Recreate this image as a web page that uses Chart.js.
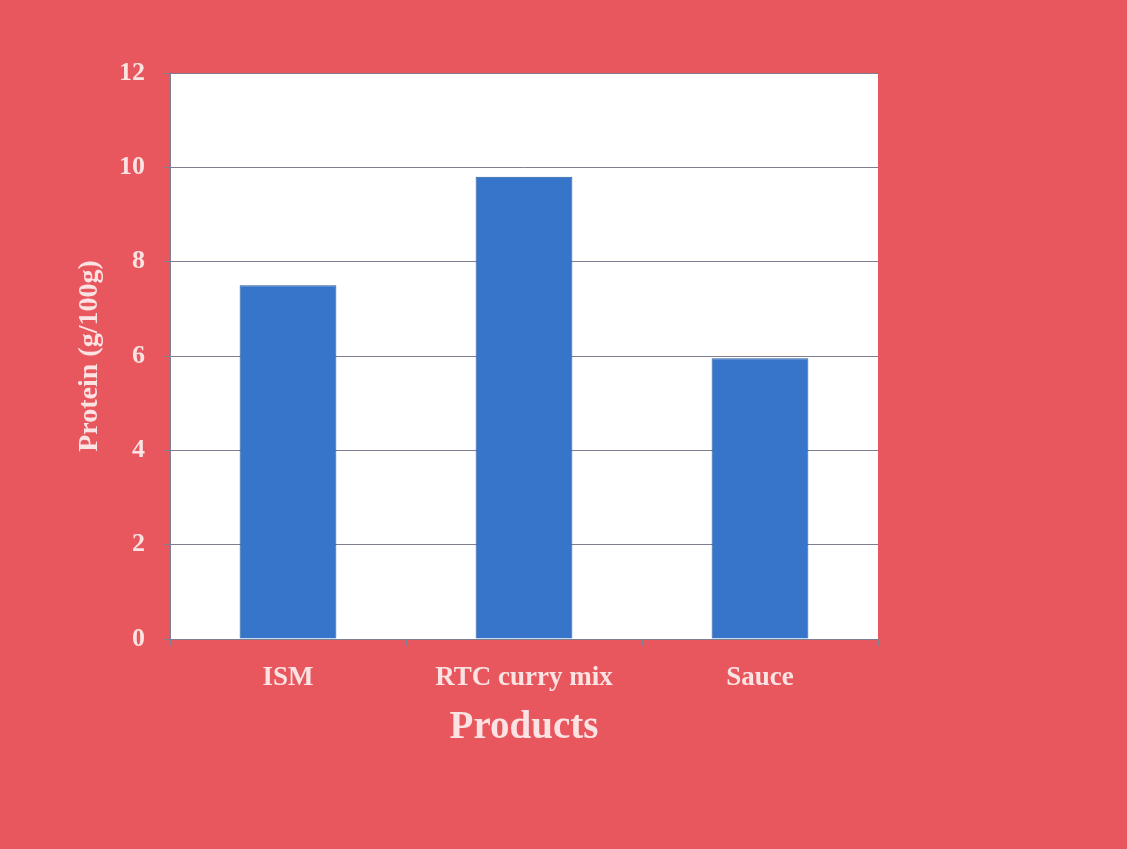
<!DOCTYPE html>
<html>
<head>
<meta charset="utf-8">
<script src="https://cdn.jsdelivr.net/npm/chart.js@4.4.0/dist/chart.umd.min.js"></script>
<style>
html,body{margin:0;padding:0;background:#E8575E;}
#wrap{width:1127px;height:849px;position:relative;}
</style>
</head>
<body>
<div id="wrap"><canvas id="c" width="1127" height="849"></canvas></div>
<script>
const categories = ["ISM", "RTC curry mix", "Sauce"];
const proteinValues = [7.5, 9.8, 5.95];
const yTicks = [0, 2, 4, 6, 8, 10, 12];

const bgColor = '#E8575E';
const textColor = '#FBE3E3';
const gridColor = '#7E7E90';

const bgPlugin = {
  id: 'bg',
  beforeDraw(chart) {
    const ctx = chart.ctx, a = chart.chartArea;
    ctx.save();
    ctx.fillStyle = bgColor;
    ctx.fillRect(0, 0, chart.width, chart.height);
    ctx.fillStyle = '#FFFFFF';
    ctx.fillRect(a.left, a.top, a.right - a.left, a.bottom - a.top);
    ctx.restore();
  },
  afterDraw(chart) {
    const ctx = chart.ctx, a = chart.chartArea;
    ctx.save();
    ctx.strokeStyle = gridColor;
    ctx.lineWidth = 1;
    ctx.beginPath();
    ctx.moveTo(a.left - 7, Math.round(a.top) + 0.5);
    ctx.lineTo(a.right, Math.round(a.top) + 0.5);
    ctx.stroke();
    ctx.restore();
  }
};

new Chart(document.getElementById('c'), {
  type: 'bar',
  data: {
    labels: categories,
    datasets: [{
      data: proteinValues,
      backgroundColor: '#3675CA',
      borderColor: '#285A9C',
      borderWidth: 1,
      barPercentage: 0.41,
      categoryPercentage: 1.0
    }]
  },
  options: {
    responsive: false,
    animation: false,
    devicePixelRatio: 1,
    layout: { padding: { left: 0, right: 249, top: 73, bottom: 98 } },
    plugins: { legend: { display: false }, tooltip: { enabled: false } },
    scales: {
      x: {
        offset: true,
        grid: { display: true, drawOnChartArea: false, drawTicks: true, tickLength: 7, color: gridColor, offset: true },
        border: { display: true, color: gridColor, width: 1 },
        ticks: { color: textColor, padding: 16, font: { family: 'Liberation Serif', size: 27, weight: 'bold' } },
        title: { display: true, text: 'Products', color: textColor, padding: { top: 0, bottom: 0 }, font: { family: 'Liberation Serif', size: 39, weight: 'bold' } },
        afterFit(scale) { scale.height = 112; }
      },
      y: {
        min: 0, max: 12,
        afterBuildTicks(scale) { scale.ticks = yTicks.map(v => ({ value: v })); },
        grid: { color: gridColor, tickLength: 7, drawTicks: true },
        border: { display: true, color: gridColor, width: 1 },
        ticks: { color: textColor, padding: 18, font: { family: 'Liberation Serif', size: 26, weight: 'bold' } },
        title: { display: true, text: 'Protein (g/100g)', color: textColor, padding: { top: 73, bottom: 0 }, font: { family: 'Liberation Serif', size: 28, weight: 'bold' } },
        afterFit(scale) { scale.width = 170; }
      }
    }
  },
  plugins: [bgPlugin]
});
</script>
</body>
</html>
